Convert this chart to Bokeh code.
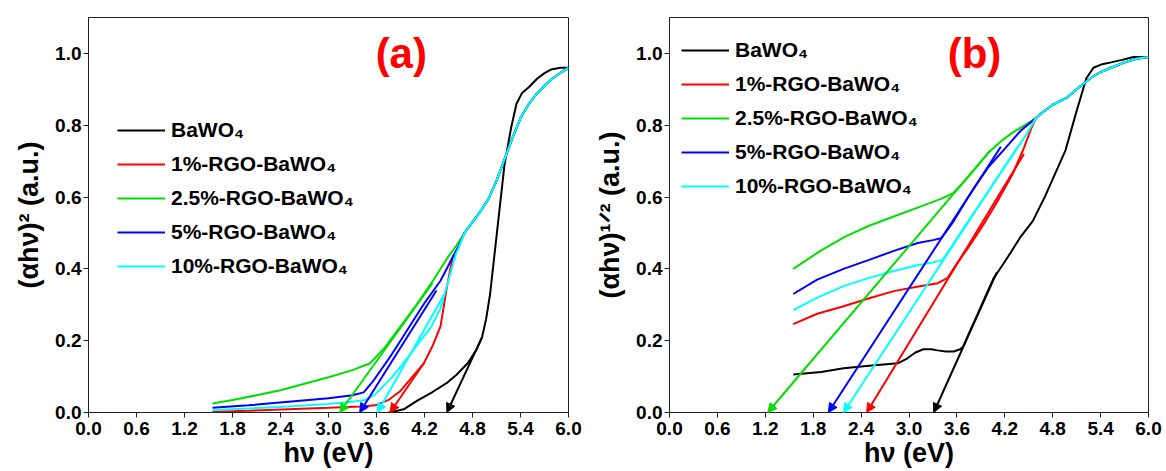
from bokeh.plotting import figure
from bokeh.models import Legend, LegendItem, Arrow, NormalHead, Label, FixedTicker, PrintfTickFormatter
from bokeh.layouts import row
from bokeh.embed import file_html
from bokeh.resources import INLINE

FONT = "Liberation Sans"

# ---------------- data ----------------
x_ticks = [0.0, 0.6, 1.2, 1.8, 2.4, 3.0, 3.6, 4.2, 4.8, 5.4, 6.0]
y_ticks = [0.0, 0.2, 0.4, 0.6, 0.8, 1.0]

series_names = ["BaWO\u2084", "1%-RGO-BaWO\u2084", "2.5%-RGO-BaWO\u2084", "5%-RGO-BaWO\u2084", "10%-RGO-BaWO\u2084"]
series_colors = ["#000000", "#ff0000", "#00e000", "#0000ff", "#00ffff"]

# panel (a): (alpha h nu)^2
a_common_x = [4.7, 4.8, 4.9, 5.0, 5.1, 5.2, 5.3, 5.4, 5.5, 5.6, 5.7, 5.8, 5.9, 6.0]
a_common_y = [0.50, 0.53, 0.56, 0.595, 0.645, 0.705, 0.765, 0.82, 0.858, 0.887, 0.91, 0.93, 0.946, 0.96]

a_black_x = [3.75, 3.81, 3.95, 4.11, 4.3, 4.49, 4.6, 4.74, 4.85, 4.92, 4.97, 5.02, 5.08, 5.15, 5.2, 5.28, 5.35, 5.42, 5.5, 5.61, 5.7, 5.78, 5.9, 6.0]
a_black_y = [0.0, 0.002, 0.01, 0.033, 0.057, 0.084, 0.105, 0.137, 0.175, 0.21, 0.26, 0.33, 0.45, 0.59, 0.69, 0.79, 0.86, 0.89, 0.905, 0.93, 0.945, 0.955, 0.96, 0.96]

a_red_x = [1.55, 2.0, 2.5, 3.0, 3.4, 3.59, 3.75, 3.9, 4.05, 4.19, 4.3, 4.4, 4.48, 4.55, 4.62] + a_common_x
a_red_y = [0.002, 0.005, 0.009, 0.013, 0.017, 0.02, 0.035, 0.06, 0.1, 0.136, 0.185, 0.24, 0.35, 0.43, 0.46] + a_common_y

a_green_x = [1.55, 1.8, 2.1, 2.4, 2.7, 3.0, 3.3, 3.52, 3.7, 3.9, 4.1, 4.3, 4.5, 4.6] + a_common_x
a_green_y = [0.025, 0.035, 0.048, 0.062, 0.08, 0.098, 0.118, 0.137, 0.18, 0.24, 0.30, 0.365, 0.435, 0.465] + a_common_y

a_blue_x = [1.55, 2.0, 2.5, 3.0, 3.3, 3.44, 3.55, 3.74, 3.9, 4.06, 4.2, 4.4, 4.57, 4.62] + a_common_x
a_blue_y = [0.013, 0.02, 0.03, 0.04, 0.048, 0.056, 0.085, 0.145, 0.2, 0.256, 0.305, 0.367, 0.44, 0.46] + a_common_y

a_cyan_x = [1.55, 2.0, 2.5, 3.0, 3.3, 3.46, 3.58, 3.67, 3.8, 3.99, 4.15, 4.28, 4.4, 4.49, 4.59, 4.63] + a_common_x
a_cyan_y = [0.006, 0.011, 0.017, 0.024, 0.03, 0.035, 0.05, 0.07, 0.1, 0.153, 0.2, 0.237, 0.29, 0.36, 0.44, 0.46] + a_common_y

# tangent lines (a): start (upper) -> end (x-intercept)
a_tan_x0 = [4.92, 4.2, 4.3, 4.35, 4.45]
a_tan_y0 = [0.21, 0.14, 0.36, 0.34, 0.33]
a_tan_x1 = [4.48, 3.77, 3.14, 3.39, 3.61]
a_tan_y1 = [0.0, 0.0, 0.0, 0.0, 0.0]

# panel (b): (alpha h nu)^1/2
b_common_x = [4.65, 4.8, 4.98, 5.1, 5.19, 5.3, 5.4, 5.53, 5.7, 5.85, 6.0]
b_common_y = [0.832, 0.857, 0.877, 0.9, 0.916, 0.935, 0.948, 0.96, 0.975, 0.985, 0.99]

b_black_x = [1.55, 1.9, 2.18, 2.5, 2.86, 2.98, 3.08, 3.18, 3.28, 3.36, 3.46, 3.56, 3.64, 3.68, 3.77, 3.86, 3.96, 4.06, 4.17, 4.27, 4.4, 4.55, 4.7, 4.8, 4.9, 4.96, 5.03, 5.1, 5.15, 5.22, 5.31, 5.42, 5.53, 5.67, 5.81, 6.0]
b_black_y = [0.106, 0.113, 0.123, 0.13, 0.137, 0.151, 0.167, 0.176, 0.176, 0.173, 0.17, 0.17, 0.176, 0.184, 0.23, 0.274, 0.325, 0.374, 0.41, 0.444, 0.49, 0.533, 0.6, 0.65, 0.7, 0.73, 0.785, 0.84, 0.877, 0.93, 0.96, 0.97, 0.975, 0.982, 0.99, 0.99]

b_red_x = [1.55, 1.85, 2.18, 2.5, 2.81, 3.1, 3.36, 3.48, 3.6, 3.73, 3.85, 3.96, 4.1, 4.2, 4.3, 4.44, 4.52, 4.59] + b_common_x
b_red_y = [0.246, 0.275, 0.296, 0.318, 0.338, 0.35, 0.36, 0.374, 0.415, 0.455, 0.495, 0.533, 0.585, 0.625, 0.665, 0.737, 0.785, 0.82] + b_common_y

b_green_x = [1.55, 1.89, 2.2, 2.5, 2.8, 3.1, 3.4, 3.55, 3.7, 3.85, 4.0, 4.15, 4.3, 4.45, 4.59] + b_common_x
b_green_y = [0.40, 0.45, 0.49, 0.52, 0.545, 0.57, 0.595, 0.61, 0.645, 0.685, 0.725, 0.755, 0.78, 0.80, 0.82] + b_common_y

b_blue_x = [1.55, 1.85, 2.18, 2.5, 2.81, 3.11, 3.3, 3.4, 3.47, 3.56, 3.7, 3.83, 4.0, 4.21, 4.4, 4.59] + b_common_x
b_blue_y = [0.33, 0.37, 0.40, 0.425, 0.45, 0.472, 0.48, 0.485, 0.505, 0.533, 0.585, 0.63, 0.685, 0.737, 0.785, 0.82] + b_common_y

b_cyan_x = [1.55, 1.85, 2.18, 2.5, 2.81, 3.1, 3.3, 3.42, 3.5, 3.6, 3.75, 3.9, 4.05, 4.2, 4.36, 4.5, 4.59] + b_common_x
b_cyan_y = [0.285, 0.32, 0.352, 0.375, 0.394, 0.41, 0.418, 0.425, 0.45, 0.485, 0.535, 0.585, 0.635, 0.685, 0.737, 0.785, 0.82] + b_common_y

b_tan_x0 = [4.1, 4.44, 4.02, 4.15, 4.36]
b_tan_y0 = [0.39, 0.72, 0.73, 0.74, 0.74]
b_tan_x1 = [3.31, 2.47, 1.23, 1.99, 2.18]
b_tan_y1 = [0.0, 0.0, 0.0, 0.0, 0.0]


def make_panel(curves, tan, ylabel, tag, tag_x, legend_loc, border_left, border_right):
    p = figure(width=583, height=471, x_range=(0, 6), y_range=(0, 1.1),
               output_backend="svg", toolbar_location=None,
               min_border_left=border_left, min_border_right=border_right,
               min_border_top=17, min_border_bottom=59)
    p.grid.visible = False
    p.outline_line_color = "#222222"
    p.outline_line_width = 1
    p.background_fill_color = "white"
    p.border_fill_color = "white"

    for ax in (p.xaxis[0], p.yaxis[0]):
        ax.major_label_text_font = FONT
        ax.major_label_text_font_style = "bold"
        ax.major_label_text_font_size = "19px"
        ax.major_label_text_color = "#000000"
        ax.axis_label_text_font = FONT
        ax.axis_label_text_font_style = "bold"
        ax.axis_label_text_font_size = "27px"
        ax.axis_label_text_color = "#000000"
        ax.major_tick_in = 0
        ax.major_tick_out = 5
        ax.minor_tick_in = 0
        ax.minor_tick_out = 0
        ax.axis_line_color = "#222222"
        ax.major_tick_line_color = "#222222"
        ax.formatter = PrintfTickFormatter(format="%.1f")

    p.xaxis.ticker = FixedTicker(ticks=x_ticks)
    p.yaxis.ticker = FixedTicker(ticks=y_ticks)
    p.xaxis.axis_label = "h\u03bd (eV)"
    p.yaxis.axis_label = ylabel
    p.xaxis.major_label_standoff = 4
    p.yaxis.major_label_standoff = 2
    p.xaxis.axis_label_standoff = 0
    p.yaxis.axis_label_standoff = 8

    items = []
    for (xs, ys), name, color in zip(curves, series_names, series_colors):
        r = p.line(xs, ys, line_color=color, line_width=2)
        items.append(LegendItem(label=name, renderers=[r]))

    x0s, y0s, x1s, y1s = tan
    for xa, ya, xb, yb, color in zip(x0s, y0s, x1s, y1s, series_colors):
        p.add_layout(Arrow(end=NormalHead(size=9, fill_color=color, line_color=color, line_width=1),
                           x_start=xa, y_start=ya, x_end=xb, y_end=yb,
                           line_color=color, line_width=2))

    legend = Legend(items=items, location=legend_loc, padding=0, margin=0,
                    spacing=10, glyph_width=48, glyph_height=20, label_height=20,
                    label_standoff=6, border_line_alpha=0, background_fill_alpha=0,
                    label_text_font=FONT, label_text_font_style="bold",
                    label_text_font_size="21px", label_text_color="#000000")
    p.add_layout(legend)

    p.add_layout(Label(x=tag_x, y=1.0, text=tag, text_align="center", text_baseline="middle",
                       text_font=FONT, text_font_style="bold", text_font_size="42px",
                       text_color="#ff0000"))
    return p


pa = make_panel(
    [(a_black_x, a_black_y), (a_red_x, a_red_y), (a_green_x, a_green_y), (a_blue_x, a_blue_y), (a_cyan_x, a_cyan_y)],
    (a_tan_x0, a_tan_y0, a_tan_x1, a_tan_y1),
    "(\u03b1h\u03bd)\u00b2 (a.u.)", "(a)", 3.91, (29, 134), 88, 15)

pb = make_panel(
    [(b_black_x, b_black_y), (b_red_x, b_red_y), (b_green_x, b_green_y), (b_blue_x, b_blue_y), (b_cyan_x, b_cyan_y)],
    (b_tan_x0, b_tan_y0, b_tan_x1, b_tan_y1),
    "(\u03b1h\u03bd)\u00b9\u141f\u00b2 (a.u.)", "(b)", 3.82, (12, 214), 86, 18)

layout = row(pa, pb)
open("out.html", "w").write(file_html(layout, INLINE))
